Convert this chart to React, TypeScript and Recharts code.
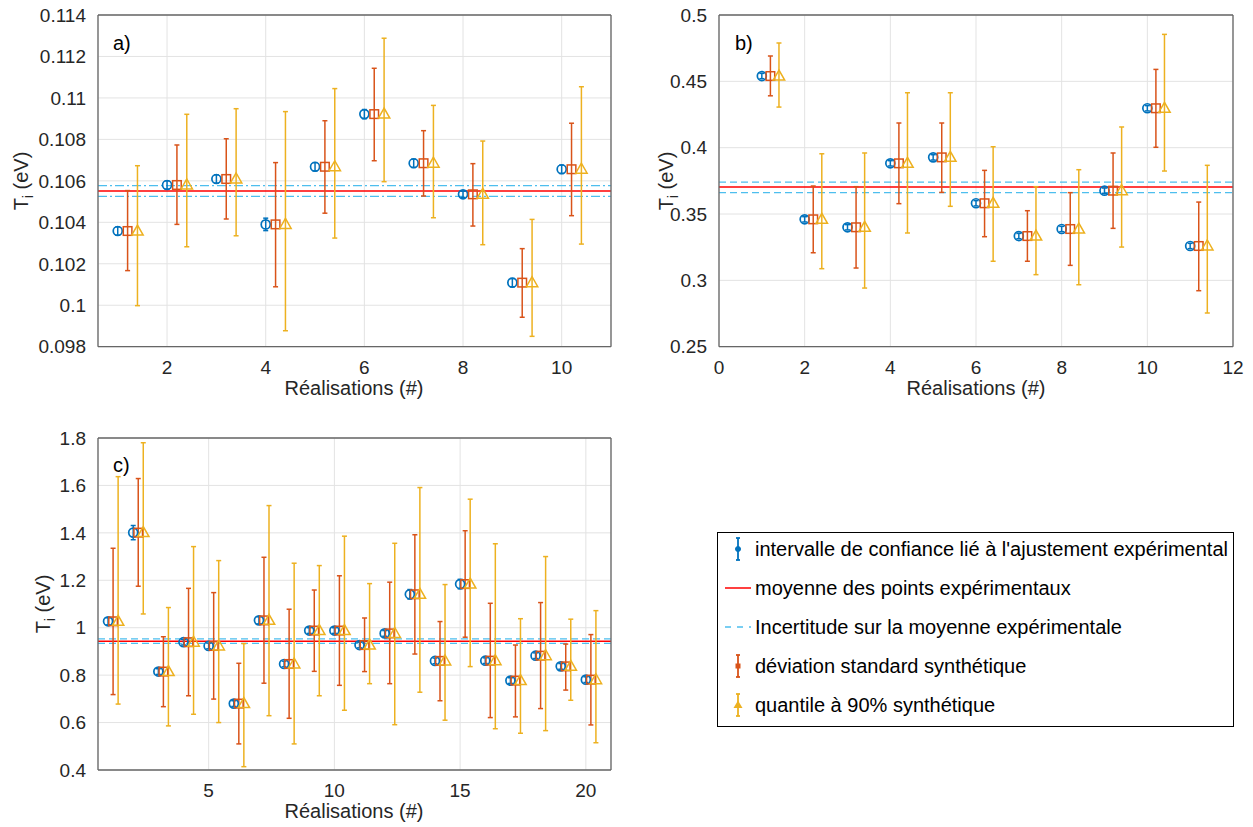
import React from 'react'
import {
  ComposedChart,
  Scatter,
  ErrorBar,
  XAxis,
  YAxis,
  CartesianGrid,
  ReferenceLine,
} from 'recharts'

const FONT = '"Liberation Sans", Arial, Helvetica, sans-serif'
const BLUE = '#0072BD'
const ORANGE = '#D95319'
const YELLOW = '#EDB120'
const RED = '#FF0000'
const CYAN = '#4DBEEE'
const AXIS = '#666666'
const TEXT = '#262626'

// panel a)
const expA = [0.10358, 0.1058, 0.10609, 0.1039, 0.10668, 0.10922, 0.10685, 0.10535, 0.10109, 0.10656]
const expErrA = [0.0002, 0.0002, 0.0002, 0.0003, 0.0002, 0.00022, 0.0002, 0.00015, 0.0002, 0.0002]
const stdLowA = [0.10167, 0.1039, 0.10416, 0.10089, 0.10444, 0.10697, 0.10527, 0.10382, 0.09942, 0.10432]
const stdHighA = [0.10553, 0.10773, 0.10803, 0.10688, 0.1089, 0.11143, 0.10842, 0.10683, 0.10273, 0.10878]
const q90LowA = [0.09998, 0.10282, 0.10335, 0.09877, 0.10324, 0.10596, 0.10422, 0.10292, 0.0985, 0.10295]
const q90HighA = [0.10673, 0.10921, 0.10948, 0.10934, 0.11045, 0.11288, 0.10964, 0.10792, 0.10414, 0.11054]
const meanA = 0.10551
const bandA = [0.10525, 0.10577]
const xTicksA = [2, 4, 6, 8, 10]
const yTicksA = [0.098, 0.1, 0.102, 0.104, 0.106, 0.108, 0.11, 0.112, 0.114]

// panel b)
const expB = [0.454, 0.346, 0.34, 0.3882, 0.3927, 0.3581, 0.3334, 0.3387, 0.3676, 0.4297, 0.3259]
const expErrB = [0.002, 0.002, 0.002, 0.002, 0.002, 0.002, 0.002, 0.002, 0.002, 0.002, 0.002]
const stdLowB = [0.4391, 0.3208, 0.3093, 0.3578, 0.3663, 0.3329, 0.3144, 0.3113, 0.3392, 0.4003, 0.2922]
const stdHighB = [0.4691, 0.3711, 0.3706, 0.4186, 0.4186, 0.3829, 0.3525, 0.3661, 0.396, 0.459, 0.359]
const q90LowB = [0.4306, 0.3088, 0.2942, 0.3357, 0.3558, 0.3144, 0.3043, 0.2967, 0.3251, 0.3824, 0.2754]
const q90HighB = [0.4789, 0.3954, 0.396, 0.4414, 0.4414, 0.4007, 0.3706, 0.3834, 0.4156, 0.4854, 0.3867]
const meanB = 0.3704
const bandB = [0.3661, 0.3741]
const xTicksB = [0, 2, 4, 6, 8, 10, 12]
const yTicksB = [0.25, 0.3, 0.35, 0.4, 0.45, 0.5]

// panel c)
const expC = [1.027, 1.401, 0.815, 0.939, 0.923, 0.68, 1.031, 0.847, 0.988, 0.988, 0.927, 0.976, 1.141, 0.86, 1.184, 0.861, 0.777, 0.882, 0.837, 0.781]
const expErrC = [0.015, 0.03, 0.012, 0.012, 0.012, 0.012, 0.015, 0.012, 0.012, 0.012, 0.012, 0.012, 0.02, 0.012, 0.02, 0.012, 0.012, 0.012, 0.012, 0.012]
const stdLowC = [0.718, 1.175, 0.667, 0.713, 0.699, 0.51, 0.766, 0.618, 0.816, 0.757, 0.815, 0.764, 0.889, 0.692, 0.96, 0.621, 0.624, 0.659, 0.737, 0.59]
const stdHighC = [1.335, 1.629, 0.962, 1.166, 1.148, 0.85, 1.297, 1.078, 1.159, 1.219, 1.041, 1.192, 1.392, 1.026, 1.409, 1.103, 0.927, 1.106, 0.931, 0.971]
const q90LowC = [0.678, 1.058, 0.586, 0.635, 0.6, 0.414, 0.629, 0.51, 0.713, 0.652, 0.764, 0.591, 0.728, 0.61, 0.836, 0.574, 0.555, 0.566, 0.694, 0.515]
const q90HighC = [1.637, 1.78, 1.085, 1.342, 1.283, 0.933, 1.515, 1.272, 1.262, 1.386, 1.186, 1.356, 1.591, 1.182, 1.542, 1.354, 1.038, 1.3, 1.036, 1.072]
const meanC = 0.943
const bandC = [0.9343, 0.9526]
const xTicksC = [5, 10, 15, 20]
const yTicksC = [0.4, 0.6, 0.8, 1, 1.2, 1.4, 1.6, 1.8]

const SHIFT = 0.2

const withBounds = (center: number[], low: number[], high: number[], shift: number) =>
  center.map((v, i) => ({ x: i + 1 + shift, y: v, err: [v - low[i], high[i] - v] }))

const withErr = (center: number[], err: number[]) =>
  center.map((v, i) => ({ x: i + 1, y: v, err: [err[i], err[i]] }))

const CircleMark = (p: any) => (
  <circle cx={p.cx} cy={p.cy} r={4.5} fill="none" stroke={BLUE} strokeWidth={1.7} />
)
const SquareMark = (p: any) => (
  <rect x={p.cx - 4.3} y={p.cy - 4.3} width={8.6} height={8.6} fill="none" stroke={ORANGE} strokeWidth={1.5} />
)
const TriangleMark = (p: any) => (
  <polygon
    points={`${p.cx},${p.cy - 6} ${p.cx - 5.7},${p.cy + 4} ${p.cx + 5.7},${p.cy + 4}`}
    fill="none"
    stroke={YELLOW}
    strokeWidth={1.5}
  />
)

interface PanelProps {
  left: number
  top: number
  width: number
  height: number
  margin: { top: number; right: number; bottom: number; left: number }
  yAxisWidth: number
  xAxisHeight: number
  xDomain: [number, number]
  xTicks: number[]
  yDomain: [number, number]
  yTicks: number[]
  exp: number[]
  expErr: number[]
  stdLow: number[]
  stdHigh: number[]
  q90Low: number[]
  q90High: number[]
  mean: number
  band: number[]
  bandDash: string
}

function Panel(props: PanelProps) {
  const blue = withErr(props.exp, props.expErr)
  const orange = withBounds(props.exp, props.stdLow, props.stdHigh, SHIFT)
  const yellow = withBounds(props.exp, props.q90Low, props.q90High, 2 * SHIFT)
  const tick = { fill: TEXT, fontSize: 19, fontFamily: FONT }
  return (
    <div style={{ position: 'absolute', left: props.left, top: props.top }}>
      <ComposedChart width={props.width} height={props.height} margin={props.margin}>
        <CartesianGrid xAxisId="main" yAxisId="main" stroke="#e3e3e3" strokeWidth={1} />
        <XAxis
          xAxisId="main"
          dataKey="x"
          type="number"
          domain={props.xDomain}
          ticks={props.xTicks}
          allowDataOverflow
          height={props.xAxisHeight}
          tick={tick}
          tickLine={false}
          tickMargin={8}
          axisLine={{ stroke: AXIS, strokeWidth: 1.3 }}
        />
        <XAxis
          xAxisId="bottomTicks"
          type="number"
          domain={props.xDomain}
          ticks={props.xTicks}
          allowDataOverflow
          mirror
          tick={false}
          tickSize={5}
          tickLine={{ stroke: AXIS, strokeWidth: 1.3 }}
          axisLine={false}
        />
        <XAxis
          xAxisId="top"
          orientation="top"
          type="number"
          domain={props.xDomain}
          ticks={props.xTicks}
          allowDataOverflow
          mirror
          tick={false}
          tickSize={5}
          tickLine={{ stroke: AXIS, strokeWidth: 1.3 }}
          axisLine={{ stroke: AXIS, strokeWidth: 1.3 }}
        />
        <YAxis
          yAxisId="main"
          dataKey="y"
          type="number"
          domain={props.yDomain}
          ticks={props.yTicks}
          allowDataOverflow
          width={props.yAxisWidth}
          tick={tick}
          tickLine={false}
          tickMargin={6}
          axisLine={{ stroke: AXIS, strokeWidth: 1.3 }}
        />
        <YAxis
          yAxisId="leftTicks"
          type="number"
          domain={props.yDomain}
          ticks={props.yTicks}
          allowDataOverflow
          mirror
          tick={false}
          tickSize={5}
          tickLine={{ stroke: AXIS, strokeWidth: 1.3 }}
          axisLine={false}
        />
        <YAxis
          yAxisId="right"
          orientation="right"
          type="number"
          domain={props.yDomain}
          ticks={props.yTicks}
          allowDataOverflow
          mirror
          tick={false}
          tickSize={5}
          tickLine={{ stroke: AXIS, strokeWidth: 1.3 }}
          axisLine={{ stroke: AXIS, strokeWidth: 1.3 }}
        />
        <ReferenceLine xAxisId="main" yAxisId="main" y={props.band[0]} stroke={CYAN} strokeWidth={1.3} strokeDasharray={props.bandDash} />
        <ReferenceLine xAxisId="main" yAxisId="main" y={props.band[1]} stroke={CYAN} strokeWidth={1.3} strokeDasharray={props.bandDash} />
        <ReferenceLine xAxisId="main" yAxisId="main" y={props.mean} stroke={RED} strokeWidth={1.5} />
        <Scatter xAxisId="main" yAxisId="main" data={blue} shape={CircleMark} isAnimationActive={false}>
          <ErrorBar dataKey="err" direction="y" width={2.5} stroke={BLUE} strokeWidth={1.5} isAnimationActive={false} />
        </Scatter>
        <Scatter xAxisId="main" yAxisId="main" data={orange} shape={SquareMark} isAnimationActive={false}>
          <ErrorBar dataKey="err" direction="y" width={2.5} stroke={ORANGE} strokeWidth={1.5} isAnimationActive={false} />
        </Scatter>
        <Scatter xAxisId="main" yAxisId="main" data={yellow} shape={TriangleMark} isAnimationActive={false}>
          <ErrorBar dataKey="err" direction="y" width={2.5} stroke={YELLOW} strokeWidth={1.5} isAnimationActive={false} />
        </Scatter>
      </ComposedChart>
    </div>
  )
}

const textBase: React.CSSProperties = {
  position: 'absolute',
  fontFamily: FONT,
  whiteSpace: 'nowrap',
  lineHeight: 1,
}

function XTitle({ cx, cy }: { cx: number; cy: number }) {
  return (
    <div style={{ ...textBase, left: cx, top: cy, transform: 'translate(-50%, -50%)', fontSize: 20, color: TEXT }}>
      Réalisations (#)
    </div>
  )
}

function YTitle({ cx, cy }: { cx: number; cy: number }) {
  return (
    <div
      style={{
        ...textBase,
        left: cx,
        top: cy,
        transform: 'translate(-50%, -50%) rotate(-90deg)',
        fontSize: 20,
        color: TEXT,
      }}
    >
      T<sub style={{ fontSize: 14, verticalAlign: -5 }}>i</sub> (eV)
    </div>
  )
}

function PanelTag({ x, cy, label }: { x: number; cy: number; label: string }) {
  return (
    <div style={{ ...textBase, left: x, top: cy, transform: 'translateY(-50%)', fontSize: 20, color: '#000' }}>
      {label}
    </div>
  )
}

function BarIcon({ color, marker }: { color: string; marker: 'circle' | 'square' | 'triangle' }) {
  return (
    <svg width={30} height={30} style={{ position: 'absolute', left: 5, top: 0 }}>
      <line x1={15} y1={4} x2={15} y2={26} stroke={color} strokeWidth={1.8} />
      <line x1={13} y1={4} x2={17} y2={4} stroke={color} strokeWidth={1.8} />
      <line x1={13} y1={26} x2={17} y2={26} stroke={color} strokeWidth={1.8} />
      {marker === 'circle' && <circle cx={15} cy={15} r={2.5} fill={color} stroke={color} />}
      {marker === 'square' && <rect x={12.5} y={12.5} width={5} height={5} fill={color} />}
      {marker === 'triangle' && <polygon points="15,10.5 10.5,18 19.5,18" fill={color} />}
    </svg>
  )
}

function LineIcon({ color, dash }: { color: string; dash?: string }) {
  return (
    <svg width={30} height={30} style={{ position: 'absolute', left: 5, top: 0 }}>
      <line x1={2} y1={15} x2={28} y2={15} stroke={color} strokeWidth={1.5} strokeDasharray={dash} />
    </svg>
  )
}

const legendLabels = [
  "intervalle de confiance lié à l'ajustement expérimental",
  'moyenne des points expérimentaux',
  'Incertitude sur la moyenne expérimentale',
  'déviation standard synthétique',
  'quantile à 90% synthétique',
]

function LegendBox() {
  const icons = [
    <BarIcon color={BLUE} marker="circle" />,
    <LineIcon color={RED} />,
    <LineIcon color={CYAN} dash="6 6" />,
    <BarIcon color={ORANGE} marker="square" />,
    <BarIcon color={YELLOW} marker="triangle" />,
  ]
  return (
    <div
      style={{
        position: 'absolute',
        left: 717,
        top: 532,
        width: 517,
        height: 195,
        border: '1.5px solid #000',
        boxSizing: 'border-box',
        background: '#fff',
      }}
    >
      {legendLabels.map((label, i) => (
        <div key={label} style={{ position: 'absolute', left: 0, top: 1 + i * 39, height: 30, width: 510 }}>
          {icons[i]}
          <span style={{ ...textBase, left: 37, top: 5, fontSize: 20, color: '#000' }}>{label}</span>
        </div>
      ))}
    </div>
  )
}

export default function App() {
  return (
    <div style={{ position: 'absolute', left: 0, top: 0, width: 1253, height: 827, background: '#fff', overflow: 'hidden' }}>
      <Panel
        left={0}
        top={0}
        width={630}
        height={400}
        margin={{ top: 15, right: 19, bottom: 0, left: 38 }}
        yAxisWidth={60}
        xAxisHeight={53.3}
        xDomain={[0.6, 11]}
        xTicks={xTicksA}
        yDomain={[0.098, 0.114]}
        yTicks={yTicksA}
        exp={expA}
        expErr={expErrA}
        stdLow={stdLowA}
        stdHigh={stdHighA}
        q90Low={q90LowA}
        q90High={q90HighA}
        mean={meanA}
        band={bandA}
        bandDash="9 3 2 3"
      />
      <Panel
        left={640}
        top={0}
        width={613}
        height={400}
        margin={{ top: 15, right: 20, bottom: 0, left: 29 }}
        yAxisWidth={50}
        xAxisHeight={53.3}
        xDomain={[0, 12]}
        xTicks={xTicksB}
        yDomain={[0.25, 0.5]}
        yTicks={yTicksB}
        exp={expB}
        expErr={expErrB}
        stdLow={stdLowB}
        stdHigh={stdHighB}
        q90Low={q90LowB}
        q90High={q90HighB}
        mean={meanB}
        band={bandB}
        bandDash="7 4"
      />
      <Panel
        left={0}
        top={420}
        width={630}
        height={407}
        margin={{ top: 18, right: 19, bottom: 0, left: 38 }}
        yAxisWidth={60}
        xAxisHeight={57}
        xDomain={[0.6, 21]}
        xTicks={xTicksC}
        yDomain={[0.4, 1.8]}
        yTicks={yTicksC}
        exp={expC}
        expErr={expErrC}
        stdLow={stdLowC}
        stdHigh={stdHighC}
        q90Low={q90LowC}
        q90High={q90HighC}
        mean={meanC}
        band={bandC}
        bandDash="7 4"
      />
      <XTitle cx={354} cy={388} />
      <XTitle cx={976} cy={388} />
      <XTitle cx={354} cy={811} />
      <YTitle cx={23} cy={181} />
      <YTitle cx={668} cy={181} />
      <YTitle cx={45} cy={604} />
      <PanelTag x={113} cy={43} label="a)" />
      <PanelTag x={735} cy={43} label="b)" />
      <PanelTag x={113} cy={465} label="c)" />
      <LegendBox />
    </div>
  )
}
